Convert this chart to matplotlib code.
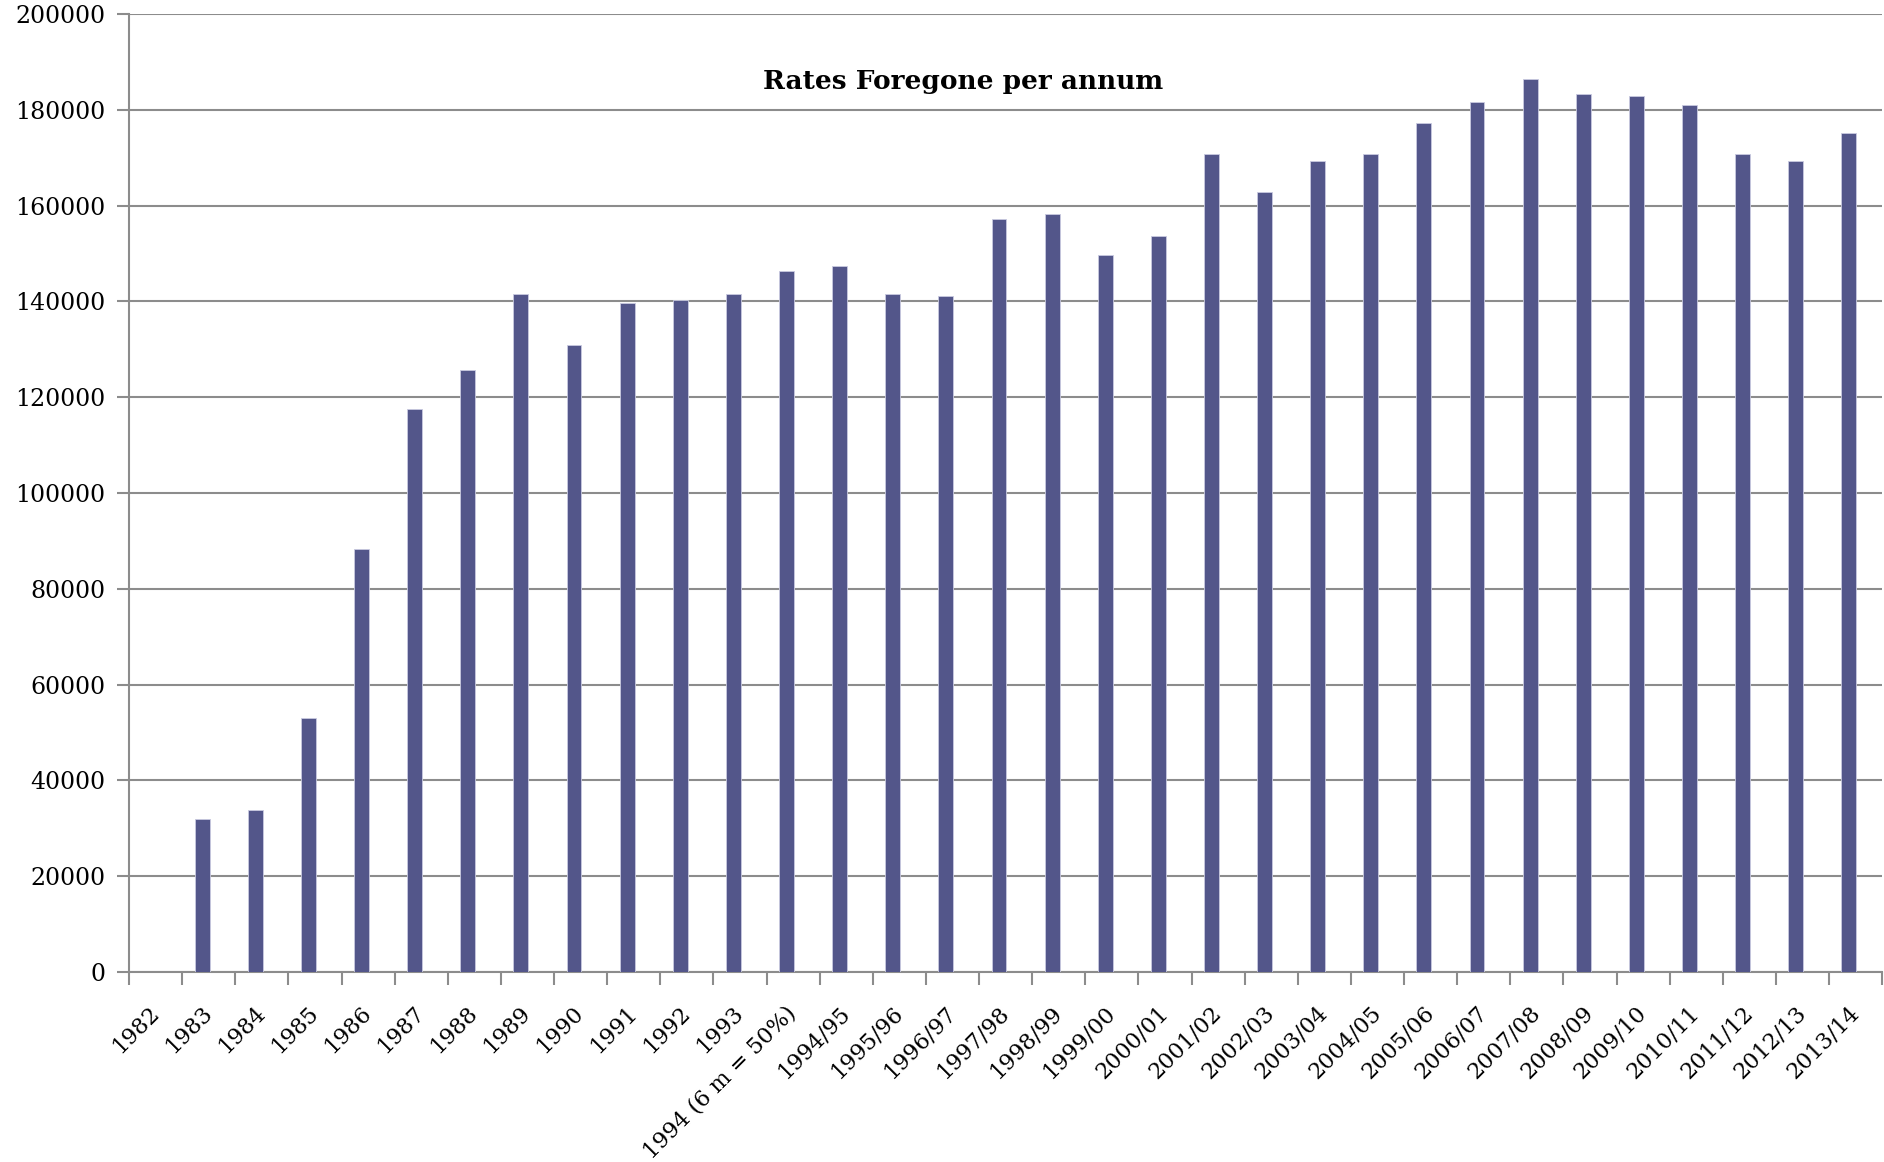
"""
plot.py — Rates Foregone per annum bar chart
"""

import matplotlib
matplotlib.use("Agg")
import matplotlib.pyplot as plt
import numpy as np

# ── Data ────────────────────────────────────────
years = [
    "1982", "1983", "1984", "1985", "1986", "1987", "1988", "1989", "1990",
    "1991", "1992", "1993", "1994 (6 m = 50%)", "1994/95", "1995/96",
    "1996/97", "1997/98", "1998/99", "1999/00", "2000/01", "2001/02",
    "2002/03", "2003/04", "2004/05", "2005/06", "2006/07", "2007/08",
    "2008/09", "2009/10", "2010/11", "2011/12", "2012/13", "2013/14",
]
rates_foregone = [
    0, 31900, 33900, 53100, 88300, 117500, 125700, 141500, 130900,
    139700, 140200, 141500, 146400, 147300, 141600,
    141200, 157200, 158300, 149700, 153700, 170700,
    162800, 169300, 170800, 177300, 181700, 186400,
    183300, 182900, 181000, 170800, 169300, 175100,
]
y_ticks = list(range(0, 200001, 20000))
# ────────────────────────────────────────────────

BAR_COLOR = "#53568a"
GRID_COLOR = "#8c8c8c"
FONT = ["DejaVu Serif"]

plt.rcParams["font.family"] = FONT

fig = plt.figure(figsize=(18.84, 11.62), dpi=100)
ax = fig.add_axes([0.0685, 0.1635, 0.9305, 0.8245])

x = np.arange(len(years))
# bars sit a little left of the category centre, as in the original sheet
ax.bar(x - 0.125, rates_foregone, width=0.28, color=BAR_COLOR,
       edgecolor="#c9cae0", linewidth=0.6, zorder=3)

ax.set_xlim(-0.5, len(years) - 0.5)
ax.set_ylim(0, 200000)
ax.set_yticks(y_ticks)
ax.set_yticklabels([str(v) for v in y_ticks], fontsize=17)
ax.yaxis.grid(True, color=GRID_COLOR, linewidth=1.5, zorder=0)
ax.set_axisbelow(True)

# category labels at centres, tick marks at the boundaries
ax.set_xticks(x)
ax.set_xticklabels(years, rotation=45, ha="right", va="center",
                   rotation_mode="anchor", fontsize=16)
ax.set_xticks(np.arange(-0.5, len(years)), minor=True)
ax.tick_params(axis="x", which="major", length=0, pad=27)
ax.tick_params(axis="x", which="minor", length=9, width=1.5, color=GRID_COLOR)
ax.tick_params(axis="y", length=9, width=1.5, color=GRID_COLOR, pad=8)

for side in ["top", "right"]:
    ax.spines[side].set_visible(False)
for side in ["left", "bottom"]:
    ax.spines[side].set_color(GRID_COLOR)
    ax.spines[side].set_linewidth(1.5)

ax.text(0.476, 0.93, "Rates Foregone per annum", transform=ax.transAxes,
        ha="center", va="center", fontsize=19, fontweight="bold")

fig.savefig("out.png", dpi=100)
plt.close(fig)
